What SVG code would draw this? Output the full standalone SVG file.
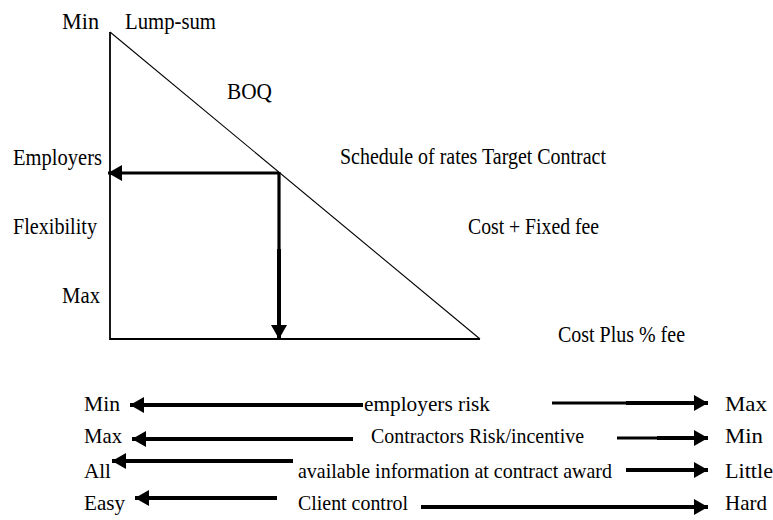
<svg xmlns="http://www.w3.org/2000/svg" width="773" height="520" viewBox="0 0 773 520">
<style>
text{font-family:"Liberation Serif","Times New Roman",serif;fill:#000}
.t{font-size:24px}
.b{font-size:21px}
.ax{fill:none;stroke:#000;stroke-width:1.8}
.thin{stroke:#000;stroke-width:1.1;fill:none}
.ar{stroke:#000;stroke-width:3.2;fill:none}
.ar2{stroke:#000;stroke-width:4;fill:none}
</style>
<defs>
<marker id="ah" markerUnits="userSpaceOnUse" markerWidth="14" markerHeight="16" refX="14" refY="8" orient="auto" viewBox="0 0 14 16">
<path d="M0,0 L14,8 L0,16 Z" fill="#000"/>
</marker>
</defs>
<rect width="773" height="520" fill="#fff"/>
<g id="graph">
<polyline class="ax" points="110,32 110,339 480,339"/>
<line class="thin" x1="110" y1="32" x2="480" y2="339"/>
</g>
<g id="connectors">
<line class="ar" x1="279" y1="173" x2="108" y2="173" marker-end="url(#ah)"/>
<line class="ar" x1="279" y1="172" x2="279" y2="250"/>
<line class="ar2" x1="279" y1="249" x2="279" y2="339" marker-end="url(#ah)"/>
<line class="ar2" x1="363" y1="405" x2="130" y2="405" marker-end="url(#ah)"/>
<line class="ar" x1="552" y1="403" x2="627" y2="403"/>
<line class="ar2" x1="626" y1="403" x2="708" y2="403" marker-end="url(#ah)"/>
<line class="ar2" x1="353" y1="439" x2="132" y2="439" marker-end="url(#ah)"/>
<line class="ar" x1="617" y1="438" x2="658" y2="438"/>
<line class="ar2" x1="657" y1="438" x2="708" y2="438" marker-end="url(#ah)"/>
<line class="ar2" x1="293" y1="461" x2="112" y2="461" marker-end="url(#ah)"/>
<line class="ar2" x1="626" y1="470" x2="708" y2="470" marker-end="url(#ah)"/>
<line class="ar2" x1="277" y1="498" x2="135" y2="498" marker-end="url(#ah)"/>
<line class="ar2" x1="421" y1="507" x2="708" y2="507" marker-end="url(#ah)"/>
</g>
<g id="n-min-top"><text class="t" x="62" y="29" textLength="37" lengthAdjust="spacingAndGlyphs">Min</text></g>
<g id="n-lumpsum"><text class="t" x="125" y="29" textLength="91" lengthAdjust="spacingAndGlyphs">Lump-sum</text></g>
<g id="n-boq"><text class="t" x="227" y="99" textLength="45" lengthAdjust="spacingAndGlyphs">BOQ</text></g>
<g id="n-employers"><text class="t" x="13" y="165" textLength="89" lengthAdjust="spacingAndGlyphs">Employers</text></g>
<g id="n-flexibility"><text class="t" x="13" y="234" textLength="84" lengthAdjust="spacingAndGlyphs">Flexibility</text></g>
<g id="n-max-left"><text class="t" x="62" y="303" textLength="38" lengthAdjust="spacingAndGlyphs">Max</text></g>
<g id="n-schedule"><text class="t" x="340" y="164" textLength="266" lengthAdjust="spacingAndGlyphs">Schedule of rates Target Contract</text></g>
<g id="n-costfixed"><text class="t" x="468" y="234" textLength="131" lengthAdjust="spacingAndGlyphs">Cost + Fixed fee</text></g>
<g id="n-costplus"><text class="t" x="558" y="342" textLength="127" lengthAdjust="spacingAndGlyphs">Cost Plus % fee</text></g>
<g id="row1">
<text class="b" x="84" y="411" textLength="36" lengthAdjust="spacingAndGlyphs">Min</text>
<text class="b" x="364" y="411" textLength="126" lengthAdjust="spacingAndGlyphs">employers risk</text>
<text class="b" x="725" y="411" textLength="42" lengthAdjust="spacingAndGlyphs">Max</text>
</g>
<g id="row2">
<text class="b" x="84" y="443" textLength="38" lengthAdjust="spacingAndGlyphs">Max</text>
<text class="b" x="371" y="443" textLength="213" lengthAdjust="spacingAndGlyphs">Contractors Risk/incentive</text>
<text class="b" x="725" y="443" textLength="38" lengthAdjust="spacingAndGlyphs">Min</text>
</g>
<g id="row3">
<text class="b" x="84" y="478" textLength="27" lengthAdjust="spacingAndGlyphs">All</text>
<text class="b" x="298" y="478" textLength="314" lengthAdjust="spacingAndGlyphs">available information at contract award</text>
<text class="b" x="725" y="478" textLength="48" lengthAdjust="spacingAndGlyphs">Little</text>
</g>
<g id="row4">
<text class="b" x="84" y="510" textLength="41" lengthAdjust="spacingAndGlyphs">Easy</text>
<text class="b" x="298" y="510" textLength="110" lengthAdjust="spacingAndGlyphs">Client control</text>
<text class="b" x="725" y="510" textLength="42" lengthAdjust="spacingAndGlyphs">Hard</text>
</g>
</svg>
